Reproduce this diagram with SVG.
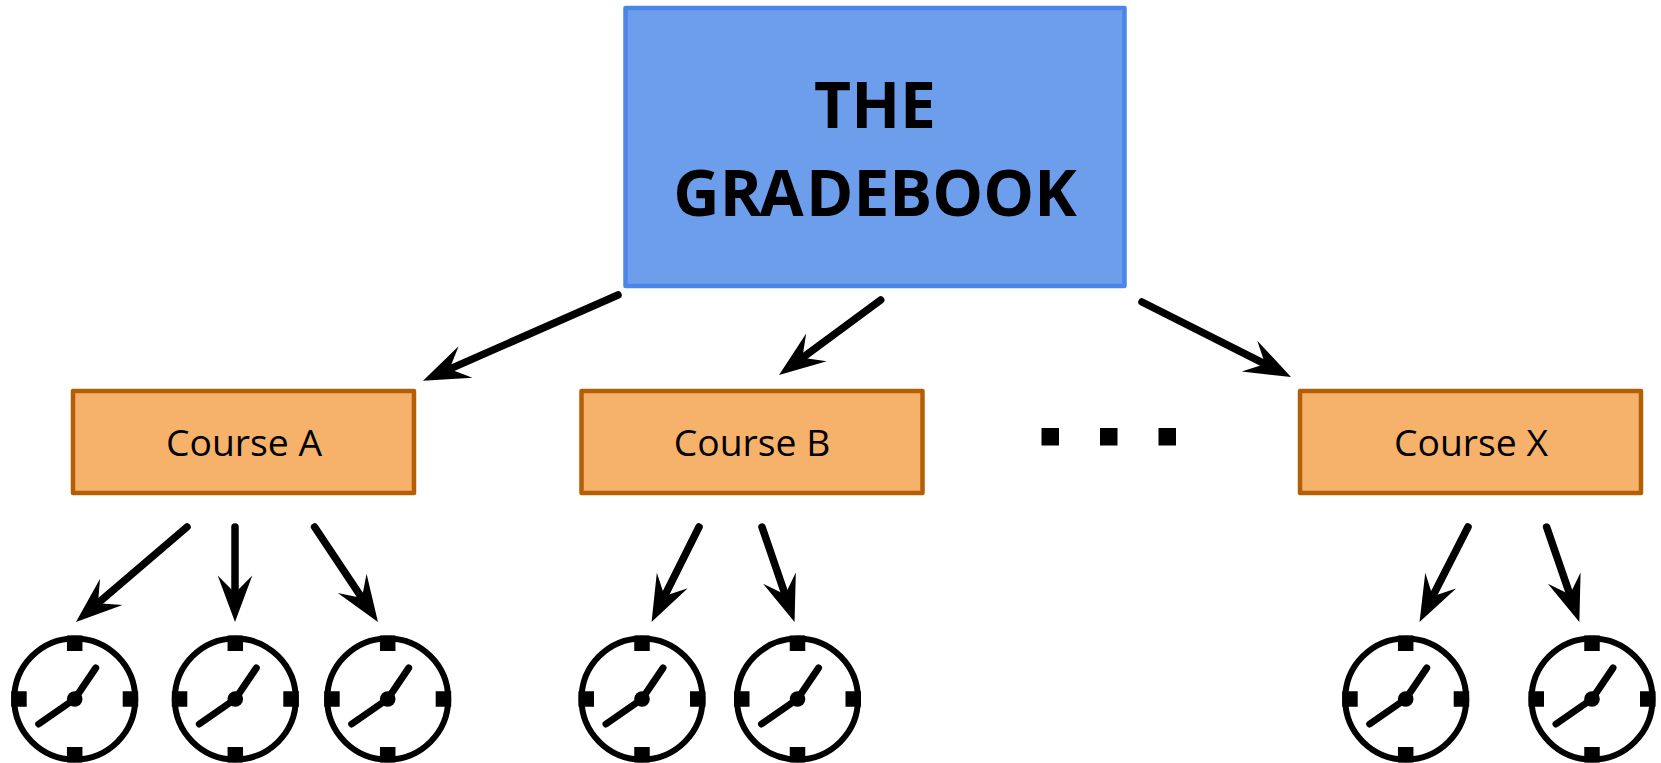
<svg xmlns="http://www.w3.org/2000/svg" xmlns:xlink="http://www.w3.org/1999/xlink" width="1661" height="763" viewBox="0 0 1661 763">
<style>
text{font-family:"Open Sans","Noto Sans","Liberation Sans",sans-serif;fill:#000;text-anchor:middle}
.title{font-size:64px;font-weight:700}
.course{font-size:37.3px}
.bluebox{fill:#6d9eeb;stroke:#4a86e8;stroke-width:4.5;stroke-linejoin:round}
.box{fill:#f6b26b;stroke:#b45f06;stroke-width:4.5;stroke-linejoin:round}
.arrow{fill:none;stroke:#000;stroke-width:7.5;stroke-linecap:round;marker-end:url(#head)}
.face{fill:#fff;stroke:#000;stroke-width:6}
.hand{stroke:#000;stroke-width:7;stroke-linecap:round;stroke-linejoin:round;fill:none}
</style>
<defs>
<marker id="head" markerUnits="userSpaceOnUse" markerWidth="60" markerHeight="50" refX="36" refY="25" orient="auto" overflow="visible"><path d="M50,25 L3.5,7.7 L21,25 L3.5,42.3 Z" fill="#000"/></marker>
<g id="clock">
<circle class="face" r="60.5"/>
<rect x="-7.75" y="-63.5" width="15.5" height="15.5"/><rect x="-7.75" y="48" width="15.5" height="15.5"/>
<rect x="-63.5" y="-7.75" width="15.5" height="15.5"/><rect x="48" y="-7.75" width="15.5" height="15.5"/>
<path class="hand" d="M21,-31 L0,0 L-36,25"/>
<circle r="7.8"/>
</g>
</defs>
<g id="gradebook"><rect class="bluebox" x="625.5" y="8" width="499" height="278"/><text class="title" x="875" y="128">THE</text><text class="title" x="875" y="216">GR<tspan dx="-2.5">A</tspan><tspan dx="2.5">DEBOOK</tspan></text></g>
<g id="course-a"><rect class="box" x="73" y="391" width="341" height="102"/><text class="course" x="244" y="456">Course A</text></g>
<g id="course-b"><rect class="box" x="581.5" y="391" width="341" height="102"/><text class="course" x="752" y="456">Course B</text></g>
<g id="course-x"><rect class="box" x="1300" y="391" width="341" height="102"/><text class="course" x="1471" y="456">Course X</text></g>
<g id="ellipsis"><rect x="1041.5" y="428" width="17.5" height="17.5"/><rect x="1100" y="428" width="17.5" height="17.5"/><rect x="1158.5" y="428" width="17.5" height="17.5"/></g>
<g id="clock-a1"><use xlink:href="#clock" href="#clock" x="74.7" y="699"/></g>
<g id="clock-a2"><use xlink:href="#clock" href="#clock" x="235.3" y="699"/></g>
<g id="clock-a3"><use xlink:href="#clock" href="#clock" x="387.7" y="699"/></g>
<g id="clock-b1"><use xlink:href="#clock" href="#clock" x="642" y="699"/></g>
<g id="clock-b2"><use xlink:href="#clock" href="#clock" x="797.5" y="699"/></g>
<g id="clock-x1"><use xlink:href="#clock" href="#clock" x="1405.7" y="699"/></g>
<g id="clock-x2"><use xlink:href="#clock" href="#clock" x="1592" y="699"/></g>
<g id="connectors">
<line class="arrow" x1="618" y1="295" x2="435.8" y2="375.1"/>
<line class="arrow" x1="880.7" y1="300" x2="790.3" y2="366.7"/>
<line class="arrow" x1="1142" y1="302" x2="1278.5" y2="370.7"/>
<line class="arrow" x1="187" y1="527" x2="86.6" y2="612.9"/>
<line class="arrow" x1="235" y1="527" x2="235" y2="608"/>
<line class="arrow" x1="314.6" y1="527" x2="370.2" y2="610.4"/>
<line class="arrow" x1="699" y1="527" x2="657.8" y2="609.5"/>
<line class="arrow" x1="762" y1="527" x2="790" y2="608.8"/>
<line class="arrow" x1="1468" y1="527" x2="1425.9" y2="609.5"/>
<line class="arrow" x1="1546.6" y1="527" x2="1574.8" y2="608.8"/>
</g>
</svg>
